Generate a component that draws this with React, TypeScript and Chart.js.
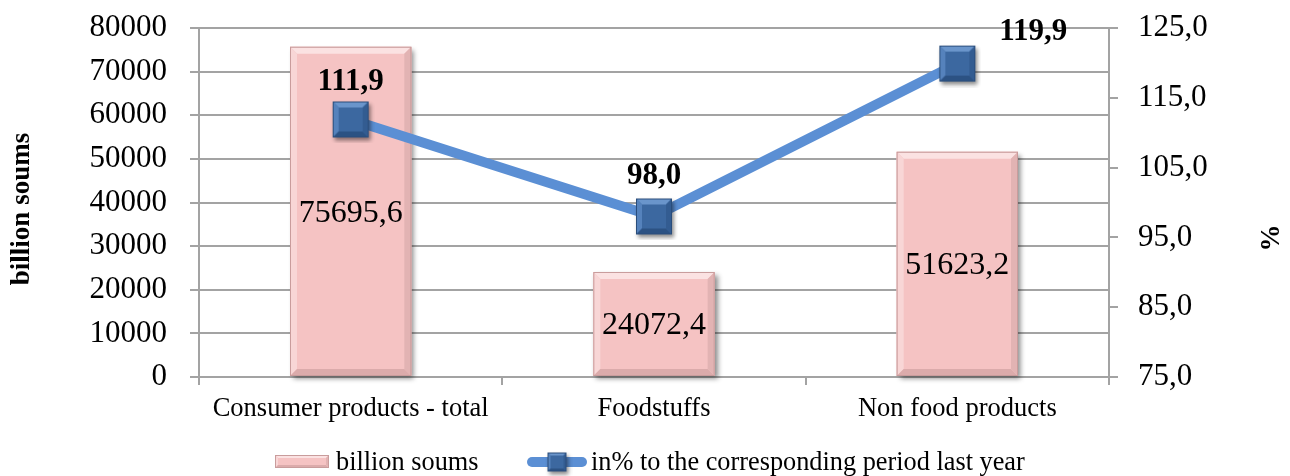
import React, { useEffect, useRef } from 'react';
import { Chart, registerables } from 'chart.js';

Chart.register(...registerables);

const categories = ['Consumer products - total', 'Foodstuffs', 'Non food products'];
const billionSoums = [75695.6, 24072.4, 51623.2];
const percentLastYear = [111.9, 98.0, 119.9];
const seriesNames = ['billion soums', 'in% to the corresponding period last year'];
const leftAxisTitle = 'billion soums';
const rightAxisTitle = '%';
const leftRange = { min: 0, max: 80000, step: 10000 };
const rightRange = { min: 75, max: 125, step: 10 };
// label offsets (style) for the percent labels, relative to their points
const pctLabelOffsets = [[0, -37], [0, -40], [76, -32]];

const SERIF = "'Liberation Serif', 'Times New Roman', serif";
const GRID = '#a3a3a3';
const PINK = '#F5C3C3';
const LINE_BLUE = '#5B8FD4';

const fmt1 = (v: number) => v.toFixed(1).replace('.', ',');

function poly(g: CanvasRenderingContext2D, pts: number[][], color: string) {
  g.beginPath();
  g.moveTo(pts[0][0], pts[0][1]);
  for (let i = 1; i < pts.length; i++) g.lineTo(pts[i][0], pts[i][1]);
  g.closePath();
  g.fillStyle = color;
  g.fill();
}

function bevelRect(g: CanvasRenderingContext2D, x: number, y: number, w: number, h: number, b: number, c: { top: string; left: string; bottom: string; right: string; border: string }) {
  poly(g, [[x, y], [x + w, y], [x + w - b, y + b], [x + b, y + b]], c.top);
  poly(g, [[x, y], [x + b, y + b], [x + b, y + h - b], [x, y + h]], c.left);
  poly(g, [[x, y + h], [x + b, y + h - b], [x + w - b, y + h - b], [x + w, y + h]], c.bottom);
  poly(g, [[x + w, y], [x + w, y + h], [x + w - b, y + h - b], [x + w - b, y + b]], c.right);
  g.strokeStyle = c.border;
  g.lineWidth = 1;
  g.strokeRect(x + 0.5, y + 0.5, w - 1, h - 1);
}

function makeMarker(size: number): HTMLCanvasElement {
  const pad = 6;
  const c = document.createElement('canvas');
  c.width = size + pad * 2;
  c.height = size + pad * 2;
  const g = c.getContext('2d')!;
  g.save();
  g.shadowColor = 'rgba(0,0,0,0.45)';
  g.shadowBlur = 4;
  g.shadowOffsetX = 2;
  g.shadowOffsetY = 3;
  g.fillStyle = '#3C68A0';
  g.fillRect(pad, pad, size, size);
  g.restore();
  bevelRect(g, pad, pad, size, size, Math.max(2, Math.round(size * 0.17)), {
    top: '#6A95CB',
    left: '#5582BC',
    bottom: '#2C5283',
    right: '#335C91',
    border: '#2A4D7B',
  });
  return c;
}

const barColors = { top: '#FBE2E2', left: '#F8D6D6', bottom: '#DBABAB', right: '#E2B3B3', border: '#C99C9C' };

export default function App() {
  const ref = useRef<HTMLCanvasElement | null>(null);

  useEffect(() => {
    document.body.style.margin = '0';
    const canvas = ref.current;
    if (!canvas) return;
    const marker = makeMarker(36);
    const legendMarker = makeMarker(19);

    const decor = {
      id: 'decor',
      beforeDatasetDraw(chart: any, args: any) {
        if (args.index !== 1) return;
        const ctx = chart.ctx;
        ctx.save();
        ctx.shadowColor = 'rgba(0,0,0,0.45)';
        ctx.shadowBlur = 5;
        ctx.shadowOffsetX = 3;
        ctx.shadowOffsetY = 3;
        ctx.fillStyle = '#c8a0a0';
        args.meta.data.forEach((bar: any) => {
          const w = bar.width;
          ctx.fillRect(bar.x - w / 2, bar.y, w, bar.base - bar.y);
        });
        ctx.restore();
      },
      afterDatasetDraw(chart: any, args: any) {
        if (args.index !== 1) return;
        const ctx = chart.ctx;
        ctx.save();
        args.meta.data.forEach((bar: any) => {
          const w = bar.width;
          bevelRect(ctx, bar.x - w / 2, bar.y, w, bar.base - bar.y, 7, barColors);
        });
        ctx.restore();
      },
      afterDatasetsDraw(chart: any) {
        const ctx = chart.ctx;
        ctx.save();
        ctx.fillStyle = '#000';
        ctx.textAlign = 'center';
        ctx.textBaseline = 'middle';
        ctx.font = `32px ${SERIF}`;
        const barMeta = chart.getDatasetMeta(1);
        barMeta.data.forEach((bar: any, i: number) => {
          ctx.fillText(fmt1(billionSoums[i]), bar.x, (bar.y + bar.base) / 2 + 2);
        });
        ctx.font = `bold 31px ${SERIF}`;
        const lineMeta = chart.getDatasetMeta(0);
        lineMeta.data.forEach((pt: any, i: number) => {
          const o = pctLabelOffsets[i];
          ctx.fillText(fmt1(percentLastYear[i]), pt.x + o[0], pt.y + o[1]);
        });
        ctx.restore();
      },
      afterDraw(chart: any) {
        const ctx = chart.ctx;
        ctx.save();
        ctx.fillStyle = '#000';
        ctx.textBaseline = 'middle';
        ctx.textAlign = 'center';
        // axis titles
        ctx.font = `bold 27px ${SERIF}`;
        ctx.save();
        ctx.translate(22, 209);
        ctx.rotate(-Math.PI / 2);
        ctx.fillText(leftAxisTitle, 0, 0);
        ctx.restore();
        ctx.save();
        ctx.translate(1272, 238);
        ctx.rotate(-Math.PI / 2);
        ctx.fillText(rightAxisTitle, 0, 0);
        ctx.restore();
        // legend
        const ly = 463;
        ctx.save();
        ctx.fillStyle = PINK;
        ctx.fillRect(275, 455, 54, 13);
        bevelRect(ctx, 275, 455, 54, 13, 3, barColors);
        ctx.restore();
        ctx.textAlign = 'left';
        ctx.font = `26.3px ${SERIF}`;
        ctx.fillStyle = '#000';
        ctx.fillText(chart.data.datasets[1].label, 336, ly);
        ctx.strokeStyle = LINE_BLUE;
        ctx.lineWidth = 10;
        ctx.lineCap = 'round';
        ctx.beginPath();
        ctx.moveTo(532, ly - 1);
        ctx.lineTo(582, ly - 1);
        ctx.stroke();
        ctx.drawImage(legendMarker, 557 - legendMarker.width / 2, ly - 1 - legendMarker.height / 2);
        ctx.fillText(chart.data.datasets[0].label, 591, ly);
        ctx.restore();
      },
    };

    const zeroPad = (s: any) => {
      s.paddingTop = 0;
      s.paddingBottom = 0;
      s.paddingLeft = 0;
      s.paddingRight = 0;
    };

    const chart = new Chart(canvas, {
      type: 'bar',
      data: {
        labels: categories,
        datasets: [
          {
            type: 'line',
            label: seriesNames[1],
            data: percentLastYear,
            yAxisID: 'y1',
            borderColor: LINE_BLUE,
            borderWidth: 10,
            pointStyle: marker as any,
            pointRadius: 18,
            pointHoverRadius: 18,
            fill: false,
            tension: 0,
            order: 0,
          } as any,
          {
            type: 'bar',
            label: seriesNames[0],
            data: billionSoums,
            yAxisID: 'y',
            backgroundColor: PINK,
            borderWidth: 0,
            barPercentage: 0.4,
            categoryPercentage: 1,
            order: 1,
          },
        ],
      },
      options: {
        responsive: false,
        animation: false,
        events: [],
        layout: { padding: { top: 25, left: 0, right: 0, bottom: 0 } },
        plugins: { legend: { display: false }, tooltip: { enabled: false } },
        scales: {
          x: {
            grid: { display: true, drawOnChartArea: false, drawTicks: true, tickLength: 8, color: GRID, lineWidth: 2 },
            border: { display: true, color: GRID, width: 2 },
            ticks: { color: '#000', padding: 8, font: { family: SERIF, size: 26.5 }, maxRotation: 0, autoSkip: false },
            afterFit: (s: any) => { s.height = 99; zeroPad(s); },
          },
          y: {
            position: 'left',
            min: leftRange.min,
            max: leftRange.max,
            grid: { color: GRID, lineWidth: 2, drawTicks: true, tickLength: 9, tickColor: GRID },
            border: { display: true, color: GRID, width: 2 },
            ticks: { stepSize: leftRange.step, color: '#000', padding: 23, font: { family: SERIF, size: 31 }, callback: (v: any) => String(v) },
            afterFit: (s: any) => { s.width = 199; zeroPad(s); },
          },
          y1: {
            position: 'right',
            min: rightRange.min,
            max: rightRange.max,
            grid: { drawOnChartArea: false, color: GRID, lineWidth: 2, drawTicks: true, tickLength: 9 },
            border: { display: true, color: GRID, width: 2 },
            ticks: { stepSize: rightRange.step, color: '#000', padding: 20, font: { family: SERIF, size: 31 }, callback: (v: any) => fmt1(Number(v)) },
            afterFit: (s: any) => { s.width = 181; zeroPad(s); },
          },
        },
      },
      plugins: [decor],
    });
    return () => chart.destroy();
  }, []);

  return (
    <div style={{ width: 1290, height: 476, background: '#fff' }}>
      <canvas ref={ref} width={1290} height={476} style={{ display: 'block', width: 1290, height: 476 }} />
    </div>
  );
}
